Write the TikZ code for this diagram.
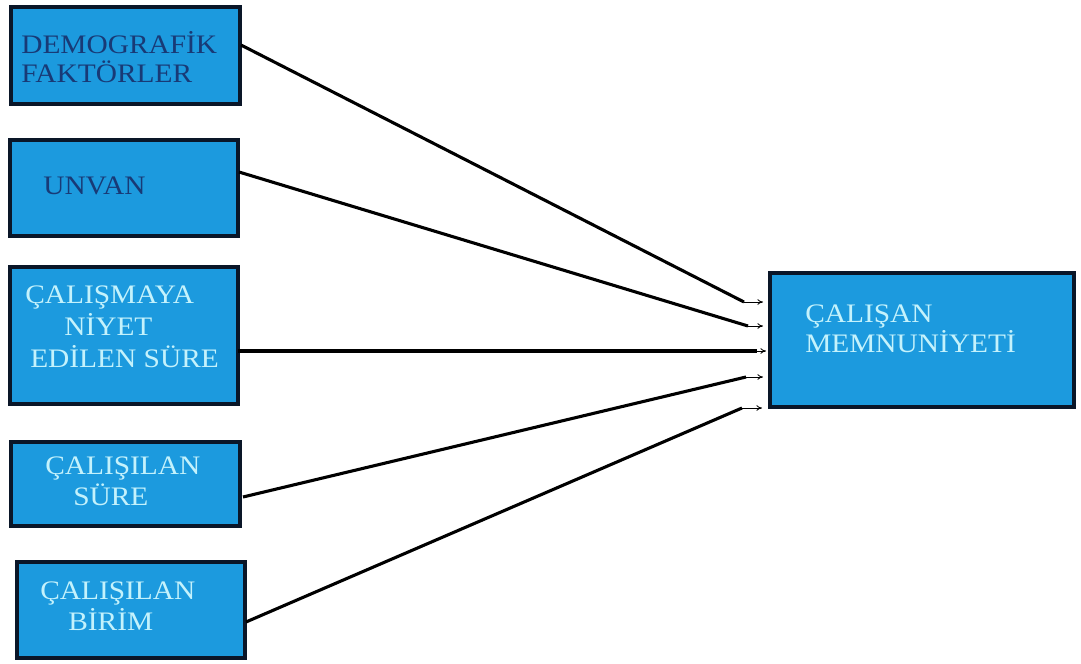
\documentclass[tikz,border=0pt]{standalone}
\usepackage{fontspec}
\setmainfont{Liberation Serif}
\usepackage{graphicx}
\usetikzlibrary{fit,arrows.meta}
\definecolor{boxfill}{RGB}{28,154,222}
\definecolor{boxline}{RGB}{10,22,40}
\definecolor{darktxt}{RGB}{24,58,118}
\definecolor{lighttxt}{RGB}{196,242,252}
\newcommand{\boxtxt}[1]{{\fontsize{19}{19}\selectfont\scalebox{1.1}[1]{#1}}}
\tikzset{
  varbox/.style={draw=boxline, fill=boxfill, line width=2.8pt, inner sep=0pt},
  dlbl/.style={anchor=base west, inner sep=0pt, text=darktxt},
  llbl/.style={anchor=base west, inner sep=0pt, text=lighttxt},
  thick line/.style={line width=2.2pt, black},
  tip line/.style={line width=0.6pt, black, -{To[length=4pt,width=4pt]}}
}
\begin{document}
\begin{tikzpicture}[x=0.025cm, y=-0.025cm]
\useasboundingbox (0,0) rectangle (1081,664);
% boxes
\node[varbox, fit={(11,7) (240,104)}] (b1) {};
\node[varbox, fit={(10,140) (238,236)}] (b2) {};
\node[varbox, fit={(10,267) (238,404)}] (b3) {};
\node[varbox, fit={(11,442) (240,526)}] (b4) {};
\node[varbox, fit={(17,562) (245,658)}] (b5) {};
\node[varbox, fit={(770,273) (1074,407)}] (t) {};
% labels
\node[dlbl] (l1a) at (21,53) {\boxtxt{DEMOGRAFİK}};
\node[dlbl] (l1b) at (21,82) {\boxtxt{FAKTÖRLER}};
\node[dlbl] (l2a) at (43,194) {\boxtxt{UNVAN}};
\node[llbl] (l3a) at (25,303) {\boxtxt{ÇALIŞMAYA}};
\node[llbl] (l3b) at (64,335) {\boxtxt{NİYET}};
\node[llbl] (l3c) at (30,367) {\boxtxt{EDİLEN SÜRE}};
\node[llbl] (l4a) at (45,474) {\boxtxt{ÇALIŞILAN}};
\node[llbl] (l4b) at (73,505) {\boxtxt{SÜRE}};
\node[llbl] (l5a) at (40,599) {\boxtxt{ÇALIŞILAN}};
\node[llbl] (l5b) at (68,630) {\boxtxt{BİRİM}};
\node[llbl] (lta) at (805,322) {\boxtxt{ÇALIŞAN}};
\node[llbl] (ltb) at (805,352) {\boxtxt{MEMNUNİYETİ}};
% connector points
\coordinate (s1) at (241,45);  \coordinate (m1) at (744,302); \coordinate (e1) at (763,302);
\coordinate (s2) at (239,172); \coordinate (m2) at (748,326); \coordinate (e2) at (763,326);
\coordinate (s3) at (238,351); \coordinate (m3) at (757,351); \coordinate (e3) at (766,351);
\coordinate (s4) at (243,497); \coordinate (m4) at (746,377); \coordinate (e4) at (763,377);
\coordinate (s5) at (246,622); \coordinate (m5) at (742,408); \coordinate (e5) at (762,408);
\foreach \i in {1,...,5}{
  \draw[thick line] (s\i) -- (m\i);
  \draw[tip line] (m\i) -- (e\i);
}
\end{tikzpicture}
\end{document}
